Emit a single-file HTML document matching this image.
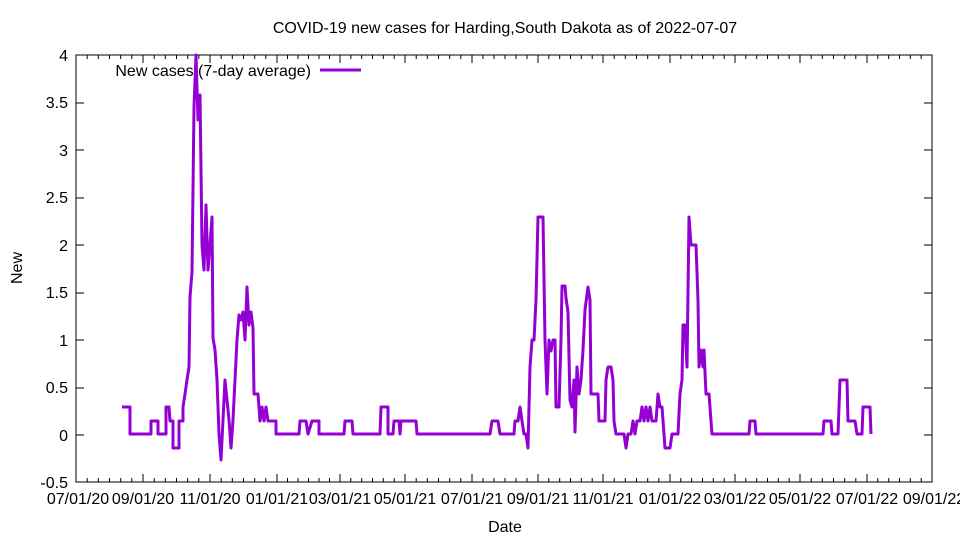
<!DOCTYPE html>
<html><head><meta charset="utf-8"><style>body{margin:0;background:#fff}</style></head><body>
<svg width="960" height="540" xmlns="http://www.w3.org/2000/svg" font-family="Liberation Sans, sans-serif" font-size="16">
<rect width="960" height="540" fill="#fff"/>
<text x="505" y="33" text-anchor="middle">COVID-19 new cases for Harding,South Dakota as of 2022-07-07</text>
<text x="505" y="532" text-anchor="middle">Date</text>
<text transform="translate(22,268) rotate(-90)" text-anchor="middle">New</text>
<g text-anchor="end">
<text x="68" y="61">4</text><text x="68" y="108">3.5</text><text x="68" y="156">3</text><text x="68" y="203">2.5</text><text x="68" y="251">2</text><text x="68" y="298">1.5</text><text x="68" y="346">1</text><text x="68" y="393">0.5</text><text x="68" y="441">0</text><text x="68" y="488">-0.5</text>
</g>
<g stroke="#000" stroke-width="1">
<path d="M76,103h8M76,150h8M76,198h8M76,245h8M76,293h8M76,340h8M76,388h8M76,435h8M932,103h-8M932,150h-8M932,198h-8M932,245h-8M932,293h-8M932,340h-8M932,388h-8M932,435h-8"/>
<path d="M143,482v-8M210,482v-8M277,482v-8M340,482v-8M405,482v-8M472,482v-8M538,482v-8M603,482v-8M670,482v-8M735,482v-8M800,482v-8M867,482v-8M143,55v8M210,55v8M277,55v8M340,55v8M405,55v8M472,55v8M538,55v8M603,55v8M670,55v8M735,55v8M800,55v8M867,55v8"/>
<path d="M87.2,482v-4M98.3,482v-4M109.5,482v-4M120.7,482v-4M131.8,482v-4M154.2,482v-4M165.3,482v-4M176.5,482v-4M187.7,482v-4M198.8,482v-4M221.2,482v-4M232.3,482v-4M243.5,482v-4M254.7,482v-4M265.8,482v-4M287.5,482v-4M298,482v-4M308.5,482v-4M319,482v-4M329.5,482v-4M350.8,482v-4M361.7,482v-4M372.5,482v-4M383.3,482v-4M394.2,482v-4M416.2,482v-4M427.3,482v-4M438.5,482v-4M449.7,482v-4M460.8,482v-4M483,482v-4M494,482v-4M505,482v-4M516,482v-4M527,482v-4M548.8,482v-4M559.7,482v-4M570.5,482v-4M581.3,482v-4M592.2,482v-4M614.2,482v-4M625.3,482v-4M636.5,482v-4M647.7,482v-4M658.8,482v-4M680.8,482v-4M691.7,482v-4M702.5,482v-4M713.3,482v-4M724.2,482v-4M745.8,482v-4M756.7,482v-4M767.5,482v-4M778.3,482v-4M789.2,482v-4M811.2,482v-4M822.3,482v-4M833.5,482v-4M844.7,482v-4M855.8,482v-4M877.8,482v-4M888.7,482v-4M899.5,482v-4M910.3,482v-4M921.2,482v-4"/>
<path d="M87.2,55v4M98.3,55v4M109.5,55v4M120.7,55v4M131.8,55v4M154.2,55v4M165.3,55v4M176.5,55v4M187.7,55v4M198.8,55v4M221.2,55v4M232.3,55v4M243.5,55v4M254.7,55v4M265.8,55v4M287.5,55v4M298,55v4M308.5,55v4M319,55v4M329.5,55v4M350.8,55v4M361.7,55v4M372.5,55v4M383.3,55v4M394.2,55v4M416.2,55v4M427.3,55v4M438.5,55v4M449.7,55v4M460.8,55v4M483,55v4M494,55v4M505,55v4M516,55v4M527,55v4M548.8,55v4M559.7,55v4M570.5,55v4M581.3,55v4M592.2,55v4M614.2,55v4M625.3,55v4M636.5,55v4M647.7,55v4M658.8,55v4M680.8,55v4M691.7,55v4M702.5,55v4M713.3,55v4M724.2,55v4M745.8,55v4M756.7,55v4M767.5,55v4M778.3,55v4M789.2,55v4M811.2,55v4M822.3,55v4M833.5,55v4M844.7,55v4M855.8,55v4M877.8,55v4M888.7,55v4M899.5,55v4M910.3,55v4M921.2,55v4"/>
</g>
<g text-anchor="middle">
<text x="78" y="504">07/01/20</text><text x="143" y="504">09/01/20</text><text x="210" y="504">11/01/20</text><text x="277" y="504">01/01/21</text><text x="340" y="504">03/01/21</text><text x="405" y="504">05/01/21</text><text x="472" y="504">07/01/21</text><text x="538" y="504">09/01/21</text><text x="603" y="504">11/01/21</text><text x="670" y="504">01/01/22</text><text x="735" y="504">03/01/22</text><text x="800" y="504">05/01/22</text><text x="867" y="504">07/01/22</text><text x="934" y="504">09/01/22</text>
</g>
<rect x="76" y="55" width="856" height="427" fill="none" stroke="#000"/>
<text x="311" y="76" text-anchor="end">New cases (7-day average)</text>
<line x1="320" y1="70" x2="361" y2="70" stroke="#9400d3" stroke-width="3"/>
<polyline fill="none" stroke="#9400d3" stroke-width="3" stroke-linejoin="round" points="122,407 130,407 130,434 151,434 151,421 158,421 158,434 166,434 166,407 169,407 170,421 173,421 173,448 179,448 179,421 183,421 183,407 185,394 187,380 189,367 190,297 192,272 194,107 196,55 198,120 200,95 202,245 204,270 206,205 208,270 210,245 212,217 213,338 215,350 217,380 219,434 221,460 223,420 225,380 227,400 229,420 231,448 233,420 235,380 237,340 239,315 241,320 243,312 245,340 247,287 249,325 251,312 253,328 254,394 258,394 260,421 262,407 264,421 266,407 268,421 276,421 276,434 299,434 300,421 306,421 308,434 312,421 319,421 319,434 344,434 345,421 352,421 353,434 380,434 381,407 388,407 388,434 393,434 394,421 399,421 400,434 401,421 416,421 417,434 490,434 492,421 498,421 500,434 514,434 515,421 518,421 520,407 522,421 524,434 526,434 528,448 530,367 532,340 534,340 536,300 538,217 543,217 545,340 547,394 549,340 551,351 553,340 555,340 556,407 559,407 561,340 562,286 565,286 566,298 568,312 570,400 572,407 574,380 575,432 577,367 579,394 581,380 583,350 585,310 588,287 590,300 591,394 598,394 599,421 605,421 606,380 608,367 611,367 613,380 614,421 616,434 624,434 626,448 628,434 631,434 633,421 635,434 637,421 640,421 642,407 644,421 646,407 648,421 650,407 652,421 656,421 658,394 660,407 662,407 664,434 665,448 670,448 672,434 678,434 680,394 682,380 683,325 685,325 687,367 689,217 691,245 696,245 698,300 699,367 701,350 703,367 704,350 706,394 709,394 711,421 712,434 749,434 750,421 755,421 756,434 823,434 824,421 831,421 832,434 838,434 840,380 847,380 848,421 855,421 857,434 862,434 863,407 870,407 871,434"/>
</svg>
</body></html>
